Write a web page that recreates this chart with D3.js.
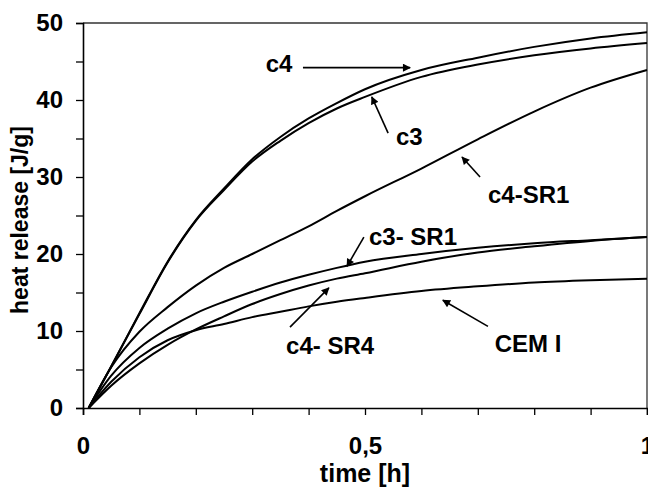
<!DOCTYPE html>
<html>
<head>
<meta charset="utf-8">
<script src="https://cdn.jsdelivr.net/npm/d3@7"></script>
<style>
  body { margin: 0; background: #fff; }
  svg { display: block; font-family: "Liberation Sans", Arial, sans-serif; font-weight: bold; }
</style>
</head>
<body>
<svg class="chart" width="648" height="487"></svg>
<script>
// time [h]
const time = [0.01, 0.05, 0.1, 0.15, 0.2, 0.25, 0.3, 0.35, 0.4, 0.45, 0.5, 0.6, 0.7, 0.8, 0.9, 1.0];

// heat release [J/g]
const c4     = [0, 5.4, 12.3, 19.0, 24.4, 28.5, 32.3, 35.2, 37.6, 39.6, 41.4, 43.9, 45.5, 46.9, 48.0, 48.8];
const c3     = [0, 5.4, 12.2, 18.9, 24.3, 28.3, 32.0, 34.7, 37.0, 38.9, 40.4, 43.0, 44.6, 45.8, 46.7, 47.4];
const c4SR1  = [0, 5.3, 9.9, 13.1, 15.9, 18.2, 20.0, 21.8, 23.6, 25.6, 27.5, 31.1, 34.9, 38.5, 41.6, 43.9];
const c3SR1  = [0, 4.2, 7.8, 10.3, 12.3, 13.8, 15.1, 16.3, 17.3, 18.2, 19.0, 20.0, 20.8, 21.4, 21.8, 22.2];
const c4SR4  = [0, 2.9, 5.8, 8.2, 10.2, 11.9, 13.5, 14.8, 15.9, 16.8, 17.5, 19.0, 20.2, 21.0, 21.7, 22.2];
const cemI   = [0, 3.4, 6.6, 8.8, 10.1, 10.9, 11.8, 12.5, 13.2, 13.8, 14.3, 15.2, 15.8, 16.3, 16.6, 16.8];

const series = [c4, c3, c4SR1, c3SR1, c4SR4, cemI];

// annotation labels: text position and arrow (from -> to), in data units
const labelNames = ['c4', 'c3', 'c4-SR1', 'c3- SR1', 'c4- SR4', 'CEM I'];
const labelPos   = [[0.324, 43.6], [0.555, 34.2], [0.718, 26.6], [0.507, 21.2], [0.36, 7.0], [0.73, 7.3]];
const arrowFrom  = [[0.39, 44.2], [0.541, 35.7], [0.704, 30.0], [0.498, 22.2], [0.367, 10.5], [0.718, 10.6]];
const arrowTo    = [[0.58, 44.2], [0.512, 40.4], [0.672, 32.6], [0.468, 18.4], [0.436, 15.6], [0.638, 14.0]];

const xTicks = d3.range(0, 11).map(d => d / 10);
const yTicks = d3.range(0, 11).map(d => d * 5);

// Define margins
const margin = { top: 23, right: 1, bottom: 79, left: 83 };
const width = 648 - margin.left - margin.right;
const height = 487 - margin.top - margin.bottom;

const svg = d3.select('.chart');

// marker for arrows
svg.append('defs').append('marker')
  .attr('id', 'arrow')
  .attr('viewBox', '0 0 10 10')
  .attr('refX', 9).attr('refY', 5)
  .attr('markerWidth', 9).attr('markerHeight', 8)
  .attr('markerUnits', 'userSpaceOnUse')
  .attr('orient', 'auto')
  .append('path').attr('d', 'M0,0 L10,5 L0,10 Z').attr('fill', '#000');

const chart = svg.append('g').attr('transform', `translate(${margin.left},${margin.top})`);

// Define scales
const xScale = d3.scaleLinear().domain([0, 1]).range([0, width]);
const yScale = d3.scaleLinear().domain([0, 50]).range([height, 0]);

// Plot frame (top and right)
chart.append('path')
  .attr('d', `M0,0 H${xScale(1)} V${yScale(0)}`)
  .attr('fill', 'none').attr('stroke', '#333').attr('stroke-width', 1.3);

// Axes
const xAxis = d3.axisBottom(xScale).tickValues(xTicks).tickSize(7).tickPadding(22)
  .tickFormat(d => (Math.abs(d % 0.5) < 1e-9 || Math.abs(d - 1) < 1e-9) ? String(d).replace('.', ',') : '');
const yAxis = d3.axisLeft(yScale).tickValues(yTicks).tickSize(7).tickPadding(13)
  .tickFormat(d => d % 10 === 0 ? d : '');

const gx = chart.append('g').attr('transform', `translate(0,${height})`).call(xAxis);
const gy = chart.append('g').call(yAxis);

[gx, gy].forEach(g => {
  g.select('.domain').attr('stroke', '#000').attr('stroke-width', 1.6);
  g.selectAll('.tick line').attr('stroke', '#000').attr('stroke-width', 1.3);
  g.selectAll('.tick text').attr('fill', '#000').style('font-size', '24px').style('font-weight', 'bold')
    .style('font-family', '"Liberation Sans", Arial, sans-serif');
});

// Lines
const line = d3.line().curve(d3.curveMonotoneX).x((d, i) => xScale(time[i])).y(d => yScale(d));

chart.selectAll('.curve')
  .data(series)
  .enter()
  .append('path')
  .attr('class', 'curve')
  .attr('fill', 'none')
  .attr('stroke', '#000')
  .attr('stroke-width', 2)
  .attr('d', d => line(d));

// Annotations
labelNames.forEach((name, i) => {
  chart.append('line')
    .attr('x1', xScale(arrowFrom[i][0])).attr('y1', yScale(arrowFrom[i][1]))
    .attr('x2', xScale(arrowTo[i][0])).attr('y2', yScale(arrowTo[i][1]))
    .attr('stroke', '#000').attr('stroke-width', 1.6)
    .attr('marker-end', 'url(#arrow)');
  chart.append('text')
    .attr('x', xScale(labelPos[i][0])).attr('y', yScale(labelPos[i][1]))
    .style('font-size', '24px')
    .text(name);
});

// Axis titles
svg.append('text')
  .attr('x', margin.left + xScale(0.5)).attr('y', 482)
  .attr('text-anchor', 'middle').style('font-size', '25px')
  .text('time [h]');

svg.append('text')
  .attr('transform', `translate(28,${220}) rotate(-90)`)
  .attr('text-anchor', 'middle').style('font-size', '23px')
  .text('heat release [J/g]');
</script>
</body>
</html>
